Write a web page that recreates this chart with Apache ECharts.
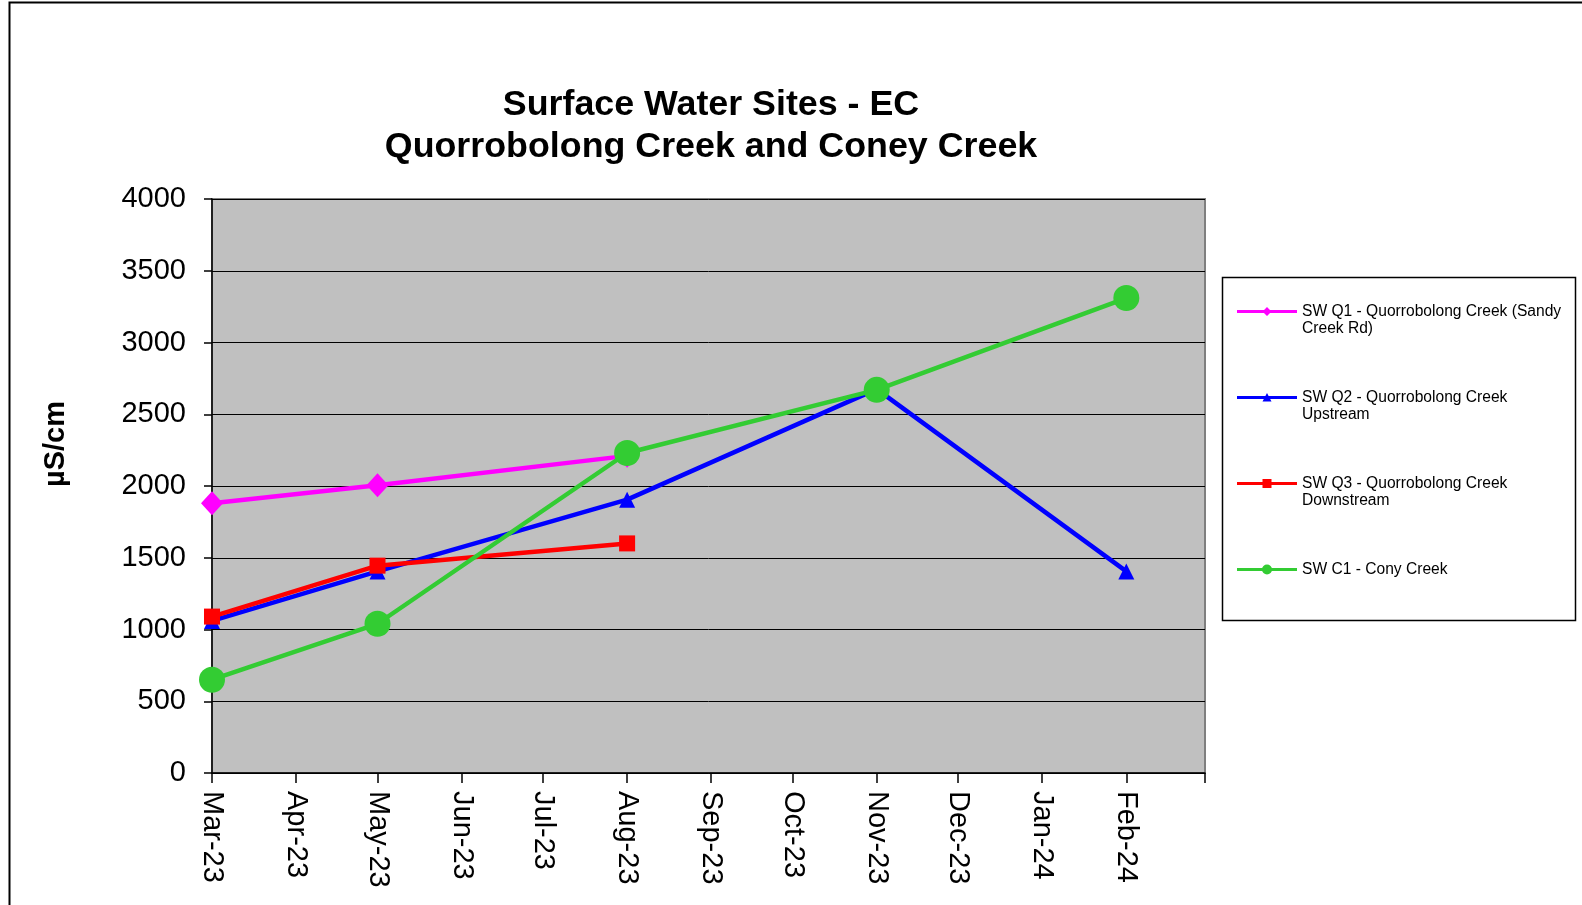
<!DOCTYPE html>
<html lang="en">
<head>
	<meta charset="UTF-8">
	<title>Surface Water Sites - EC</title>
	<script src="https://cdn.jsdelivr.net/npm/echarts@6/dist/echarts.min.js"></script>
	<style>
		html, body { margin: 0; padding: 0; background: #fff; }
		#main { width: 1582px; height: 905px; }
	</style>
</head>
<body>
	<div id="main"></div>
	<script>
		// sampling dates and EC readings (uS/cm)
		var sampleDates = ['2023-03-01', '2023-05-01', '2023-08-01', '2023-11-01', '2024-02-01'];
		var q1Values = [1880, 2005, 2210, null, null];
		var q2Values = [1060, 1405, 1905, 2675, 1405];
		var q3Values = [1090, 1445, 1600, null, null];
		var c1Values = [650, 1040, 2230, 2670, 3310];

		var seriesNames = [
			'SW Q1 - Quorrobolong Creek (Sandy Creek Rd)',
			'SW Q2 - Quorrobolong Creek Upstream',
			'SW Q3 - Quorrobolong Creek Downstream',
			'SW C1 - Cony Creek'
		];
		var legendLabels = [
			'SW Q1 - Quorrobolong Creek (Sandy\nCreek Rd)',
			'SW Q2 - Quorrobolong Creek\nUpstream',
			'SW Q3 - Quorrobolong Creek\nDownstream',
			'SW C1 - Cony Creek\n '
		];

		var monthTicks = ['2023-03-01', '2023-04-01', '2023-05-01', '2023-06-01', '2023-07-01', '2023-08-01',
			'2023-09-01', '2023-10-01', '2023-11-01', '2023-12-01', '2024-01-01', '2024-02-01', '2024-03-01'];
		var monthLabels = ['Mar-23', 'Apr-23', 'May-23', 'Jun-23', 'Jul-23', 'Aug-23',
			'Sep-23', 'Oct-23', 'Nov-23', 'Dec-23', 'Jan-24', 'Feb-24', ''];

		var yTicks = [0, 500, 1000, 1500, 2000, 2500, 3000, 3500, 4000];

		var FONT = 'Liberation Sans, Arial, sans-serif';
		var myChart = echarts.init(document.getElementById('main'));

		function toTime(s) {
			var p = s.split('-');
			return Date.UTC(+p[0], +p[1] - 1, +p[2]);
		}
		var tickTimes = monthTicks.map(toTime);

		function pairs(values) {
			var out = [];
			for (var i = 0; i < values.length; i++) {
				if (values[i] != null) out.push([toTime(sampleDates[i]), values[i]]);
			}
			return out;
		}

		// legend icons: line + marker on the first text line
		var anchors = 'M0,0 L0.01,0 L0,0.01 Z M0,34 L0.01,34 L0,33.99 Z ';
		var lineBar = 'M0,7 L60,7 L60,10 L0,10 Z ';
		var legendIcons = [
			'path://' + anchors + lineBar + 'M30,4 L34.5,8.5 L30,13 L25.5,8.5 Z',
			'path://' + anchors + lineBar + 'M30,4 L34.5,12.5 L25.5,12.5 Z',
			'path://' + anchors + lineBar + 'M25.5,4 L34.5,4 L34.5,13 L25.5,13 Z',
			'path://' + anchors + lineBar + 'M25,8.5 A5,5 0 1,1 35,8.5 A5,5 0 1,1 25,8.5 Z'
		];

		function mkSeries(idx, values, color, symbol, size) {
			return {
				name: seriesNames[idx],
				type: 'line',
				data: pairs(values),
				symbol: symbol,
				symbolSize: size,
				showAllSymbol: true,
				lineStyle: { color: color, width: 4.5 },
				itemStyle: { color: color },
				emphasis: { disabled: true }
			};
		}

		var option = {
			animation: false,
			title: {
				text: 'Surface Water Sites - EC\nQuorrobolong Creek and Coney Creek',
				left: 706,
				top: 79,
				textAlign: 'center',
				textStyle: { fontFamily: FONT, fontSize: 35.8, fontWeight: 'bold', color: '#000', lineHeight: 42 }
			},
			legend: {
				orient: 'vertical',
				left: 1237,
				top: 303,
				padding: 0,
				itemGap: 52,
				itemWidth: 60,
				itemHeight: 34,
				selectedMode: false,
				symbolKeepAspect: false,
				itemStyle: { borderWidth: 0 },
				data: seriesNames.map(function (n, i) { return { name: n, icon: legendIcons[i] }; }),
				formatter: function (name) { return legendLabels[seriesNames.indexOf(name)]; },
				textStyle: { fontFamily: FONT, fontSize: 15.6, lineHeight: 17, color: '#000' }
			},
			grid: {
				left: 212, right: 377, top: 199, bottom: 132,
				outerBoundsMode: 'none',
				show: true,
				backgroundColor: '#c0c0c0',
				borderColor: '#7f7f7f',
				borderWidth: 2
			},
			xAxis: {
				type: 'value',
				min: tickTimes[0],
				max: tickTimes[tickTimes.length - 1],
				axisLine: { lineStyle: { color: '#000', width: 1.5 } },
				axisTick: { show: true, length: 10, lineStyle: { color: '#000', width: 1.5 }, customValues: tickTimes },
				splitLine: { show: false },
				axisLabel: {
					customValues: tickTimes,
					rotate: -90,
					margin: 18,
					color: '#000',
					fontFamily: FONT,
					fontSize: 29,
					formatter: function (v) {
						var i = tickTimes.indexOf(+v);
						return i >= 0 ? monthLabels[i] : '';
					}
				}
			},
			yAxis: {
				type: 'value',
				min: yTicks[0],
				max: yTicks[yTicks.length - 1],
				interval: 500,
				axisLine: { show: true, lineStyle: { color: '#000', width: 1.5 } },
				axisTick: { show: true, length: 8, lineStyle: { color: '#000', width: 1.5 } },
				splitLine: { lineStyle: { color: '#000', width: 1 } },
				axisLabel: {
					margin: 26, color: '#000', fontFamily: FONT, fontSize: 29,
					formatter: function (v) { return String(v); }
				}
			},
			graphic: [
				{
					type: 'rect',
					shape: { x: 9.5, y: 2.5, width: 1700, height: 1000 },
					style: { fill: 'none', stroke: '#000', lineWidth: 2 },
					silent: true
				},
				{
					type: 'rect',
					shape: { x: 1222.5, y: 277.5, width: 353, height: 343 },
					style: { fill: 'none', stroke: '#000', lineWidth: 1.5 },
					silent: true
				},
				{
					type: 'text',
					x: 56,
					y: 444,
					rotation: Math.PI / 2,
					style: {
						text: 'µS/cm',
						fontFamily: FONT,
						fontSize: 29,
						fontWeight: 'bold',
						fill: '#000',
						align: 'center',
						verticalAlign: 'middle'
					}
				}
			],
			series: [
				mkSeries(0, q1Values, '#ff00ff', 'diamond', [22, 24]),
				mkSeries(1, q2Values, '#0000ff', 'triangle', 16),
				mkSeries(2, q3Values, '#ff0000', 'rect', 16),
				mkSeries(3, c1Values, '#33cc33', 'circle', 26)
			]
		};

		myChart.setOption(option);
	</script>
</body>
</html>
